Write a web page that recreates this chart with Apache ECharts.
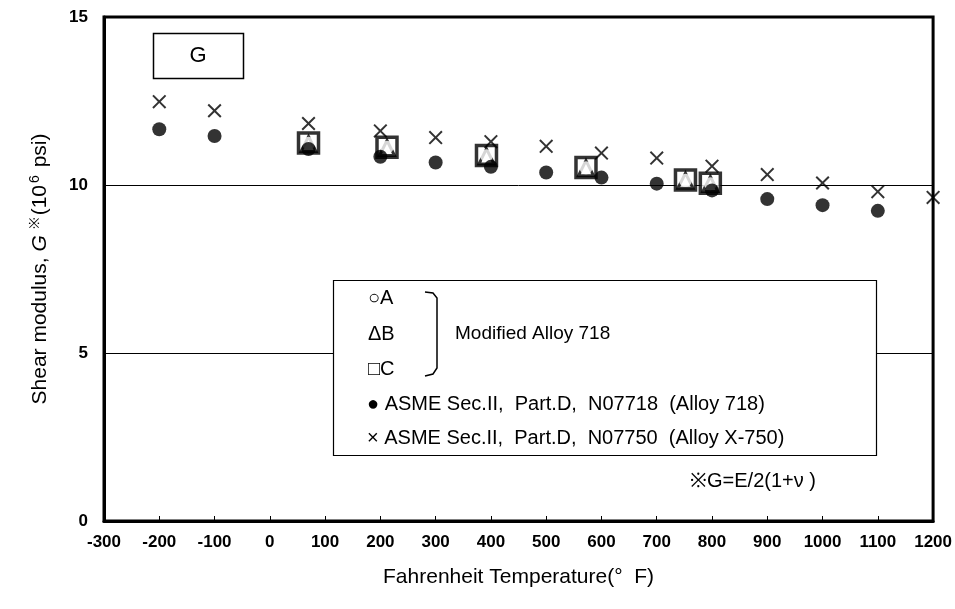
<!DOCTYPE html>
<html>
<head>
<meta charset="utf-8">
<script src="https://cdn.jsdelivr.net/npm/echarts@6/dist/echarts.min.js"></script>
<style>html,body{margin:0;padding:0;background:#fff}#c{width:955px;height:609px}</style>
</head>
<body>
<div id="c"></div>
<script>
// Modified Alloy 718 (A, B, C)
var modTemps = [70, 212, 392, 572, 752, 797];
var modA = [11.24, 11.12, 10.87, 10.51, 10.14, 10.04];
var modB = [11.22, 11.10, 10.85, 10.50, 10.13, 10.03];
var modC = [11.25, 11.12, 10.88, 10.52, 10.15, 10.05];
// ASME Sec.II Part.D N07718 (Alloy 718)
var temps718 = [-200, -100, 70, 200, 300, 400, 500, 600, 700, 800, 900, 1000, 1100];
var g718 = [11.66, 11.46, 11.07, 10.84, 10.67, 10.54, 10.37, 10.22, 10.04, 9.84, 9.58, 9.40, 9.23];
// ASME Sec.II Part.D N07750 (Alloy X-750)
var temps750 = [-200, -100, 70, 200, 300, 400, 500, 600, 700, 800, 900, 1000, 1100, 1200];
var g750 = [12.48, 12.21, 11.83, 11.61, 11.41, 11.29, 11.15, 10.95, 10.80, 10.56, 10.31, 10.06, 9.80, 9.63];

function pairs(xs, ys) { return xs.map(function (x, i) { return [x, ys[i]]; }); }

var FONT = '"Liberation Sans", Arial, sans-serif';
var NARROW = '"Liberation Sans Narrow", "Liberation Sans", Arial, sans-serif';
var CROSS = 'path://M0,1L1,0L5,4L9,0L10,1L6,5L10,9L9,10L5,6L1,10L0,9L4,5Z';

var chart = echarts.init(document.getElementById('c'), null, {renderer: 'canvas'});
chart.setOption({
  animation: false,
  backgroundColor: '#fff',
  grid: {left: 104, right: 20, top: 17, bottom: 88, show: true, borderColor: '#000', borderWidth: 3, backgroundColor: 'transparent'},
  xAxis: {
    type: 'value', min: -300, max: 1200, interval: 100,
    name: 'Fahrenheit Temperature(°  F)', nameLocation: 'middle', nameGap: 46,
    nameTextStyle: {fontFamily: FONT, fontSize: 21, color: '#000'},
    axisLine: {show: true, onZero: false, lineStyle: {color: '#000', width: 3}},
    axisTick: {show: true, inside: true, length: 5, lineStyle: {color: '#000', width: 1}},
    axisLabel: {fontFamily: NARROW, fontSize: 17, fontWeight: 'bold', color: '#000', margin: 13,
                formatter: function (v) { return String(v); }},
    splitLine: {show: false}
  },
  yAxis: {
    type: 'value', min: 0, max: 15, interval: 5,
    name: '{n|Shear modulus, }{i|G}{s| ※}{n|(10}{s|6}{n| psi)}', nameLocation: 'middle', nameGap: 52,
    nameTextStyle: {
      fontFamily: FONT, fontSize: 21, color: '#000',
      rich: {
        n: {fontFamily: FONT, fontSize: 21, color: '#000'},
        i: {fontFamily: FONT, fontSize: 21, color: '#000', fontStyle: 'italic'},
        s: {fontFamily: FONT, fontSize: 14, color: '#000', verticalAlign: 'top', padding: [0, 2, 10, 2]}
      }
    },
    axisLine: {show: true, onZero: false, lineStyle: {color: '#000', width: 3}},
    axisTick: {show: false},
    axisLabel: {fontFamily: NARROW, fontSize: 17, fontWeight: 'bold', color: '#000', margin: 16},
    splitLine: {show: true, lineStyle: {color: '#000', width: 1}}
  },
  series: [
    {name: 'C', type: 'scatter', data: pairs(modTemps, modC), symbol: 'rect', symbolSize: 20,
     itemStyle: {color: '#fff', borderColor: '#000', borderWidth: 3.5}, z: 2},
    {name: 'B', type: 'scatter', data: pairs(modTemps, modB), symbol: 'triangle', symbolSize: 15,
     itemStyle: {color: 'transparent', borderColor: '#000', borderWidth: 3}, z: 3},
    {name: 'A', type: 'scatter', data: pairs(modTemps, modA), symbol: 'emptyCircle', symbolSize: 13,
     itemStyle: {color: 'transparent', borderColor: '#000', borderWidth: 3}, z: 4},
    {name: 'ASME Sec.II, Part.D, N07718 (Alloy 718)', type: 'scatter', data: pairs(temps718, g718),
     symbol: 'circle', symbolSize: 14, itemStyle: {color: '#000'}, z: 5},
    {name: 'ASME Sec.II, Part.D, N07750 (Alloy X-750)', type: 'scatter', data: pairs(temps750, g750),
     symbol: CROSS, symbolSize: 14, itemStyle: {color: '#000'}, z: 6}
  ],
  graphic: [
    {type: 'rect', shape: {x: 153.5, y: 33.5, width: 90, height: 45}, style: {fill: '#fff', stroke: '#000', lineWidth: 1.5}, z: 10},
    {type: 'text', x: 198, y: 56, style: {text: 'G', font: '22px ' + FONT, fill: '#000', textAlign: 'center', textVerticalAlign: 'middle'}, z: 11},
    {type: 'rect', shape: {x: 333.5, y: 280.5, width: 543, height: 175}, style: {fill: '#fff', stroke: '#000', lineWidth: 1.2}, z: 10},
    {type: 'text', x: 368, y: 298, style: {text: '○A', font: '20px ' + FONT, fill: '#000', textVerticalAlign: 'middle'}, z: 11},
    {type: 'text', x: 368, y: 334, style: {text: 'ΔB', font: '20px ' + FONT, fill: '#000', textVerticalAlign: 'middle'}, z: 11},
    {type: 'text', x: 368, y: 369, style: {text: '□C', font: '20px ' + FONT, fill: '#000', textVerticalAlign: 'middle'}, z: 11},
    {type: 'polyline', shape: {points: [[425, 292], [433, 293], [437, 298], [437, 368], [433, 374], [425, 376]]}, style: {stroke: '#000', lineWidth: 1.5, fill: null}, z: 11},
    {type: 'text', x: 455, y: 334, style: {text: 'Modified Alloy 718', font: '19px ' + FONT, fill: '#000', textVerticalAlign: 'middle'}, z: 11},
    {type: 'text', x: 367, y: 404, style: {text: '● ASME Sec.II,  Part.D,  N07718  (Alloy 718)', font: '20px ' + FONT, fill: '#000', textVerticalAlign: 'middle'}, z: 11},
    {type: 'text', x: 367, y: 438, style: {text: '× ASME Sec.II,  Part.D,  N07750  (Alloy X-750)', font: '20px ' + FONT, fill: '#000', textVerticalAlign: 'middle'}, z: 11},
    {type: 'text', x: 690, y: 481, style: {text: '※G=E/2(1+ν )', font: '20px ' + FONT, fill: '#000', textVerticalAlign: 'middle'}, z: 11}
  ]
});
</script>
</body>
</html>
